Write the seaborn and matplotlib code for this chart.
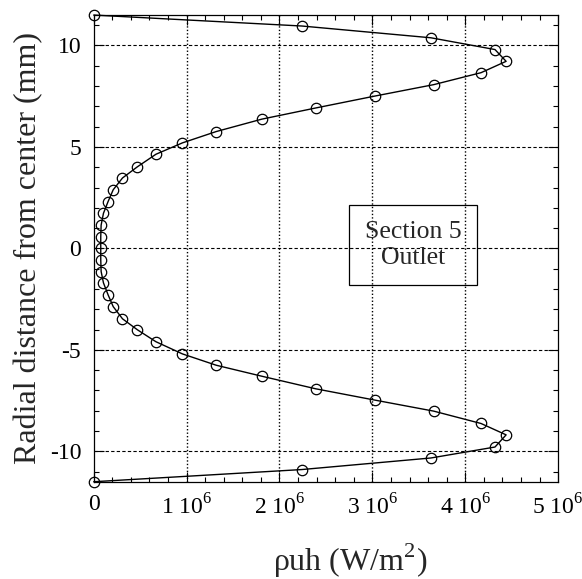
import numpy as np
import pandas as pd
import seaborn as sns
import matplotlib.pyplot as plt
from matplotlib.ticker import MultipleLocator, FuncFormatter

# radial profile of rho*u*h at the outlet (section 5)
radius_mm = [11.5, 10.96, 10.38, 9.80, 9.22, 8.66, 8.07, 7.51, 6.92, 6.37,
             5.76, 5.20, 4.64, 4.02, 3.47, 2.89, 2.31, 1.73, 1.15, 0.58,
             0.0, -0.56, -1.14, -1.70, -2.29, -2.87, -3.47, -4.01, -4.60, -5.20,
             -5.76, -6.30, -6.92, -7.48, -8.02, -8.63, -9.19, -9.79, -10.33, -10.9,
             -11.5]
rhouh_1e6 = [0, 2.24, 3.63, 4.32, 4.44, 4.17, 3.66, 3.03, 2.39, 1.81,
             1.32, 0.955, 0.67, 0.47, 0.31, 0.21, 0.155, 0.105, 0.08, 0.076,
             0.076, 0.076, 0.08, 0.105, 0.155, 0.21, 0.31, 0.47, 0.67, 0.955,
             1.32, 1.81, 2.39, 3.03, 3.66, 4.17, 4.44, 4.32, 3.63, 2.24,
             0]

df = pd.DataFrame({"rhouh": np.array(rhouh_1e6) * 1e6, "r": radius_mm})

sns.set_style("ticks")
plt.rcParams["font.family"] = ["Liberation Serif", "DejaVu Serif"]
plt.rcParams["mathtext.fontset"] = "custom"
plt.rcParams["mathtext.rm"] = "Liberation Serif"
plt.rcParams["axes.unicode_minus"] = False

fig = plt.figure(figsize=(5.82, 5.79), dpi=100)
ax = fig.add_axes([0.161, 0.168, 0.798, 0.806])

sns.lineplot(data=df, x="rhouh", y="r", sort=False, estimator=None, color="black",
             linewidth=1.0, marker="o", markersize=7.5, markerfacecolor="none",
             markeredgecolor="black", markeredgewidth=0.9, clip_on=False, ax=ax)

ax.set_xlim(0, 5e6)
ax.set_ylim(-11.5, 11.5)
ax.xaxis.set_major_locator(MultipleLocator(1e6))
ax.xaxis.set_minor_locator(MultipleLocator(2e5))
ax.yaxis.set_major_locator(MultipleLocator(5))
ax.yaxis.set_minor_locator(MultipleLocator(1))

def fmt_x(v, pos):
    n = int(round(v / 1e6))
    if n == 0:
        return "0"
    return str(n) + r" 10$^{\mathregular{6}}$"

ax.xaxis.set_major_formatter(FuncFormatter(fmt_x))
ax.tick_params(which="both", direction="in", top=True, right=True, colors="black", width=0.8)
ax.tick_params(which="major", length=7, labelsize=17, pad=9)
ax.tick_params(which="minor", length=3.5)

for s in ax.spines.values():
    s.set_color("black")
    s.set_linewidth(0.9)

ax.grid(False)
for yv in [-10, -5, 0, 5, 10]:
    ax.axhline(yv, color="black", linestyle=(0, (3, 2)), linewidth=0.8, zorder=0)
for xv in [1e6, 2e6, 3e6, 4e6]:
    ax.axvline(xv, color="black", linestyle=(0, (1, 1.5)), linewidth=1.0, zorder=0)

ax.set_xlabel(r"ρuh (W/m$^{\mathregular{2}}$)", fontsize=23)
ax.set_ylabel("Radial distance from center (mm)", fontsize=23)
ax.xaxis.set_label_coords(0.553, -0.128)
ax.yaxis.set_label_coords(-0.108, 0.5)

ax.text(3.44e6, 0.17, "Section 5\nOutlet", fontsize=18.5, ha="center", va="center",
        linespacing=1.25,
        bbox=dict(boxstyle="square,pad=0.62", facecolor="none", edgecolor="black", linewidth=0.9))

plt.savefig("out.png", dpi=100)
